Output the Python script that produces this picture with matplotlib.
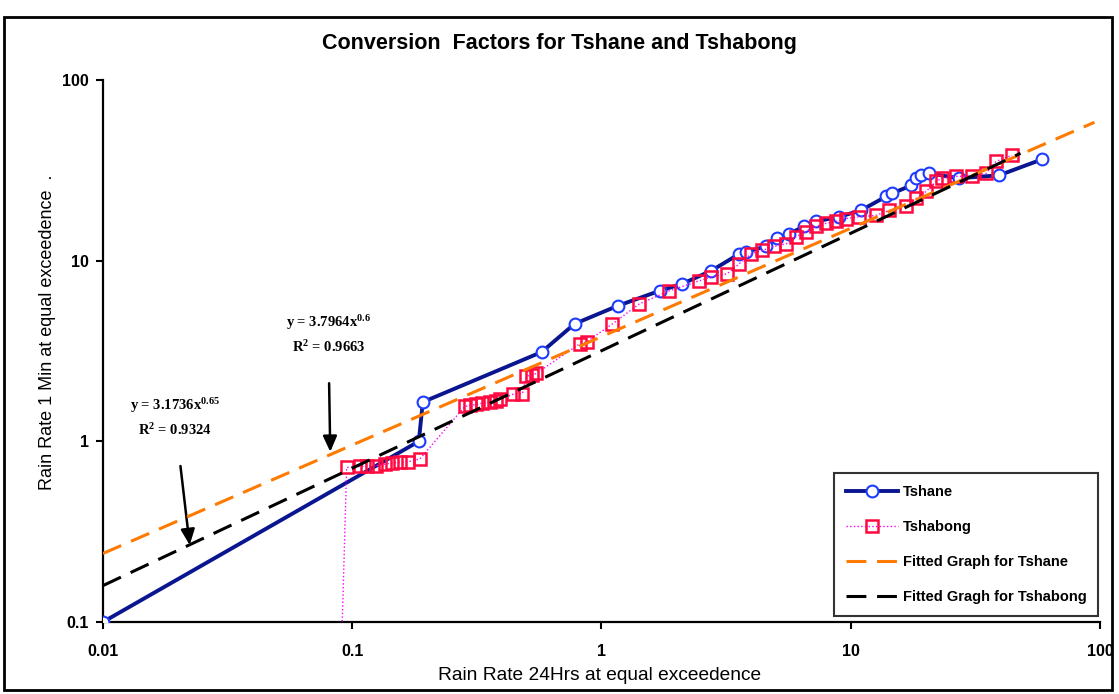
import numpy as np
import matplotlib
matplotlib.use("Agg")
import matplotlib.pyplot as plt
from matplotlib.ticker import FixedLocator, FixedFormatter, NullLocator
from matplotlib.patches import Rectangle

# Rain rate (mm/h) at equal exceedance: 24-hour integration vs 1-minute integration
tshane_r24 = [0.01, 0.185, 0.192, 0.575, 0.78, 1.16, 1.71, 2.11, 2.76, 3.57, 3.81,
              4.58, 5.07, 5.67, 6.51, 7.27, 9.0, 11.0, 13.9, 14.7, 17.5, 18.3,
              19.2, 20.6, 27.2, 39.4, 58.6]
tshane_r1 = [0.1, 1.0, 1.65, 3.12, 4.47, 5.62, 6.81, 7.45, 8.8, 10.9, 11.2,
             12.0, 13.3, 14.1, 15.5, 16.5, 17.5, 19.0, 22.7, 23.6, 26.1, 28.6,
             29.7, 30.4, 28.6, 29.7, 36.4]

tshabong_r24 = [0.087, 0.095, 0.107, 0.115, 0.125, 0.135, 0.145, 0.155, 0.167, 0.187,
                0.283, 0.296, 0.315, 0.333, 0.356, 0.379, 0.39, 0.44, 0.482, 0.50,
                0.528, 0.548, 0.817, 0.871, 1.107, 1.42, 1.87, 2.47, 2.76, 3.20,
                3.57, 3.99, 4.42, 4.93, 5.51, 6.05, 6.63, 7.27, 7.98, 8.75, 9.59,
                10.8, 12.6, 14.3, 16.7, 18.3, 20.1, 22.0, 23.3, 26.5, 30.7, 34.9,
                38.3, 44.4]
tshabong_r1 = [0.01, 0.717, 0.726, 0.73, 0.734, 0.748, 0.76, 0.765, 0.77, 0.80,
               1.56, 1.58, 1.60, 1.63, 1.65, 1.68, 1.71, 1.82, 1.84, 2.30,
               2.33, 2.38, 3.46, 3.55, 4.47, 5.77, 6.81, 7.74, 8.15, 8.47,
               9.62, 10.9, 11.4, 12.0, 12.4, 13.6, 14.5, 15.5, 16.1, 16.5, 17.1,
               17.5, 17.8, 19.0, 20.0, 22.1, 24.2, 27.5, 28.6, 29.3, 29.4, 30.4,
               35.5, 38.3]

# Power-law trendlines y = a * x^b
tshane_fit_a, tshane_fit_b, tshane_fit_r2 = 3.7964, 0.60, 0.9663
tshabong_fit_a, tshabong_fit_b, tshabong_fit_r2 = 3.1736, 0.65, 0.9324
tshane_fit_span = (0.01, 95.0)
tshabong_fit_span = (0.01, 48.0)

x_ticks = [0.01, 0.1, 1, 10, 100]
x_tick_labels = ["0.01", "0.1", "1", "10", "100"]
y_ticks = [0.1, 1, 10, 100]
y_tick_labels = ["0.1", "1", "10", "100"]

plt.rcParams["font.family"] = ["Liberation Sans", "DejaVu Sans"]
plt.rcParams["mathtext.fontset"] = "custom"
plt.rcParams["mathtext.rm"] = "Liberation Serif:bold"
plt.rcParams["mathtext.it"] = "Liberation Serif:bold"

fig = plt.figure(figsize=(11.19, 6.94), dpi=100)
fig.patch.set_facecolor("white")
ax = fig.add_axes([0.092, 0.1037, 0.891, 0.781])

# outer chart frame
fig.patches.append(Rectangle((0.004, 0.006), 0.990, 0.970, transform=fig.transFigure,
                             fill=False, edgecolor="black", linewidth=2.0))

ax.plot(tshane_r24, tshane_r1, color="#0A1690", linewidth=2.8, marker="o",
        markersize=8.5, markerfacecolor="white", markeredgecolor="#1E3CFF",
        markeredgewidth=1.5, label="Tshane", zorder=3)
ax.plot(tshabong_r24, tshabong_r1, color="#FF00FF", linewidth=1.0, linestyle=":",
        marker="s", markersize=9, markerfacecolor="none", markeredgecolor="#FF0A40",
        markeredgewidth=1.8, label="Tshabong", zorder=4)

xf = np.logspace(np.log10(tshane_fit_span[0]), np.log10(tshane_fit_span[1]), 200)
ax.plot(xf, tshane_fit_a * xf ** tshane_fit_b, color="#FF7A00", linewidth=2.2,
        dashes=(6.5, 3.5), label="Fitted Graph for Tshane", zorder=5)
xg = np.logspace(np.log10(tshabong_fit_span[0]), np.log10(tshabong_fit_span[1]), 200)
ax.plot(xg, tshabong_fit_a * xg ** tshabong_fit_b, color="black", linewidth=2.2,
        dashes=(6.5, 3.5), label="Fitted Gragh for Tshabong", zorder=5)

ax.set_xscale("log")
ax.set_yscale("log")
ax.set_xlim(0.01, 100)
ax.set_ylim(0.1, 100)
ax.xaxis.set_major_locator(FixedLocator(x_ticks))
ax.xaxis.set_major_formatter(FixedFormatter(x_tick_labels))
ax.yaxis.set_major_locator(FixedLocator(y_ticks))
ax.yaxis.set_major_formatter(FixedFormatter(y_tick_labels))
ax.xaxis.set_minor_locator(NullLocator())
ax.yaxis.set_minor_locator(NullLocator())

for side in ("top", "right"):
    ax.spines[side].set_visible(False)
for side in ("left", "bottom"):
    ax.spines[side].set_linewidth(1.6)
ax.tick_params(axis="both", direction="out", length=5, width=1.5, labelsize=11.5)
ax.tick_params(axis="x", pad=11)
ax.tick_params(axis="y", pad=5)
for lab in ax.get_xticklabels() + ax.get_yticklabels():
    lab.set_fontweight("bold")

ax.set_xlabel("Rain Rate 24Hrs at equal exceedence", fontsize=13.8)
ax.set_ylabel("Rain Rate 1 Min at equal exceedence  .", fontsize=13)
ax.xaxis.set_label_coords(0.498, -0.083)
ax.yaxis.set_label_coords(-0.047, 0.535)

fig.text(0.5, 1 - 43 / 694, "Conversion  Factors for Tshane and Tshabong",
         ha="center", va="center", fontsize=15.5, fontweight="bold")

# trendline equations with arrows
ax.annotate(f"y = {tshane_fit_a:.4f}x$^{{{tshane_fit_b:.1f}}}$\nR$^2$ = {tshane_fit_r2:.4f}",
            xy=(0.228, 0.314), xycoords="axes fraction",
            xytext=(0.226, 0.531), textcoords="axes fraction",
            ha="center", va="center", fontsize=10.5, fontweight="bold",
            family="Liberation Serif", linespacing=1.6,
            arrowprops=dict(arrowstyle="-|>,head_length=0.9,head_width=0.4",
                            color="black", linewidth=1.8, shrinkA=18, shrinkB=0))
ax.annotate(f"y = {tshabong_fit_a:.4f}x$^{{{tshabong_fit_b:.2f}}}$\nR$^2$ = {tshabong_fit_r2:.4f}",
            xy=(0.087, 0.142), xycoords="axes fraction",
            xytext=(0.072, 0.378), textcoords="axes fraction",
            ha="center", va="center", fontsize=10.5, fontweight="bold",
            family="Liberation Serif", linespacing=1.6,
            arrowprops=dict(arrowstyle="-|>,head_length=0.9,head_width=0.4",
                            color="black", linewidth=1.8, shrinkA=18, shrinkB=0))

leg = ax.legend(loc="lower right", bbox_to_anchor=(0.998, 0.011), borderaxespad=0,
                frameon=True, fancybox=False, edgecolor="black", labelspacing=1.45,
                handlelength=3.6, handletextpad=0.3, borderpad=0.8,
                prop={"weight": "bold", "size": 10.5})
leg.get_frame().set_linewidth(1.5)
leg.set_zorder(10)

fig.savefig("out.png", dpi=100, facecolor="white")
